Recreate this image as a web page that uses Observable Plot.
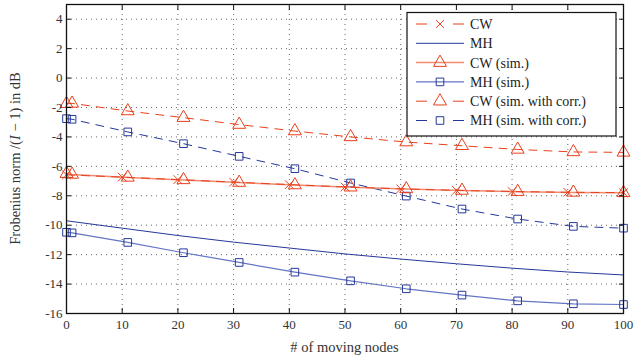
<!DOCTYPE html>
<html><head><meta charset="utf-8">
<script src="https://cdn.jsdelivr.net/npm/d3@7"></script>
<script src="https://cdn.jsdelivr.net/npm/@observablehq/plot@0.6"></script>
<style>body{margin:0;background:#fff;}</style>
</head><body><div id="chart"></div>
<script>
// ---- data ----
const xAnalytic = [0, 10, 20, 30, 40, 50, 60, 70, 80, 90, 100];
const cwAnalytic = [-6.58, -6.73, -6.9, -7.07, -7.24, -7.4, -7.53, -7.63, -7.71, -7.76, -7.79];
const mhAnalytic = [-9.7, -10.2, -10.7, -11.15, -11.55, -11.95, -12.3, -12.62, -12.92, -13.18, -13.38];
const xSim = [0, 1, 11, 21, 31, 41, 51, 61, 71, 81, 91, 100];
const cwSim = [-6.5, -6.55, -6.75, -6.92, -7.1, -7.27, -7.42, -7.54, -7.64, -7.72, -7.77, -7.8];
const mhSim = [-10.48, -10.52, -11.17, -11.87, -12.53, -13.19, -13.78, -14.32, -14.75, -15.14, -15.34, -15.39];
const cwSimCorr = [-1.75, -1.72, -2.24, -2.69, -3.16, -3.6, -4.0, -4.35, -4.6, -4.85, -5.02, -5.05];
const mhSimCorr = [-2.76, -2.8, -3.66, -4.46, -5.32, -6.16, -7.13, -8.02, -8.9, -9.58, -10.08, -10.2];
const xTicks = [0, 10, 20, 30, 40, 50, 60, 70, 80, 90, 100];
const yTicks = [-16, -14, -12, -10, -8, -6, -4, -2, 0, 2, 4];
const seriesNames = ["CW", "MH", "CW (sim.)", "MH (sim.)", "CW (sim. with corr.)", "MH (sim. with corr.)"];
const xLabel = "# of moving nodes";

const RED = "#e8401c", RED_LIGHT = "#f08a70", BLUE = "#25389a", BLUE_LIGHT = "#6475c2";
const DASH = "8,7";

const rows = (xs, ys) => xs.map((x, i) => ({x, y: ys[i]}));
const dCW = rows(xAnalytic, cwAnalytic);
const dMH = rows(xAnalytic, mhAnalytic);
const dCWs = rows(xSim, cwSim);
const dMHs = rows(xSim, mhSim);
const dCWc = rows(xSim, cwSimCorr);
const dMHc = rows(xSim, mhSimCorr);

const plot = Plot.plot({
  width: 634, height: 360,
  marginLeft: 66, marginRight: 11, marginTop: 4, marginBottom: 47,
  style: {fontFamily: "'Liberation Serif', serif", fontSize: "13px", color: "#222", background: "#fff"},
  x: {domain: [0, 100], label: null},
  y: {domain: [-16, 5], label: null},
  marks: [
    Plot.gridX(xTicks, {stroke: "#333", strokeOpacity: 0.75, strokeDasharray: "1,4"}),
    Plot.gridY(yTicks, {stroke: "#333", strokeOpacity: 0.75, strokeDasharray: "1,4"}),
    // MH analytic
    Plot.line(dMH, {x: "x", y: "y", stroke: BLUE, strokeWidth: 1}),
    // MH sim
    Plot.line(dMHs, {x: "x", y: "y", stroke: BLUE_LIGHT, strokeWidth: 1.2}),
    Plot.dot(dMHs, {x: "x", y: "y", symbol: "square", r: 4.3, fill: "none", stroke: BLUE, strokeWidth: 1}),
    // MH sim corr
    Plot.line(dMHc, {x: "x", y: "y", stroke: BLUE, strokeWidth: 1, strokeDasharray: DASH}),
    Plot.dot(dMHc, {x: "x", y: "y", symbol: "square", r: 4.3, fill: "none", stroke: BLUE, strokeWidth: 1}),
    // CW sim
    Plot.line(dCWs, {x: "x", y: "y", stroke: RED_LIGHT, strokeWidth: 1.5}),
    // CW analytic
    Plot.line(dCW, {x: "x", y: "y", stroke: RED, strokeWidth: 1, strokeDasharray: DASH}),
    Plot.dot(dCW, {x: "x", y: "y", symbol: "times", r: 4, stroke: RED, strokeWidth: 1}),
    Plot.dot(dCWs, {x: "x", y: "y", symbol: "triangle", r: 4.8, fill: "none", stroke: RED, strokeWidth: 1}),
    // CW sim corr
    Plot.line(dCWc, {x: "x", y: "y", stroke: RED, strokeWidth: 1, strokeDasharray: DASH}),
    Plot.dot(dCWc, {x: "x", y: "y", symbol: "triangle", r: 4.8, fill: "none", stroke: RED, strokeWidth: 1}),
    Plot.frame({stroke: "#111", strokeWidth: 1.3}),
    Plot.axisX(xTicks, {anchor: "bottom", tickSize: 0, tickPadding: 6, fill: "#333", fontSize: 13}),
    Plot.axisX(xTicks, {anchor: "bottom", tickSize: -5, text: null, stroke: "#111"}),
    Plot.axisX(xTicks, {anchor: "top", tickSize: -5, text: null, stroke: "#111"}),
    Plot.axisY(yTicks, {anchor: "left", tickSize: 0, tickPadding: 4, fill: "#333", fontSize: 13, tickFormat: d => String(d)}),
    Plot.axisY(yTicks, {anchor: "left", tickSize: -5, text: null, stroke: "#111"}),
    Plot.axisY(yTicks, {anchor: "right", tickSize: -5, text: null, stroke: "#111"})
  ]
});
document.getElementById("chart").appendChild(plot);

// ---- axis titles & legend (drawn into the same SVG) ----
const svg = d3.select(plot);
const font = "'Liberation Serif', serif";
svg.append("text")
  .attr("x", (66 + 623) / 2).attr("y", 352)
  .attr("text-anchor", "middle").attr("font-family", font).attr("font-size", 14.5).attr("fill", "#333")
  .text(xLabel);
const yl = svg.append("text")
  .attr("transform", `translate(20,${(4 + 313) / 2}) rotate(-90)`)
  .attr("text-anchor", "middle").attr("font-family", font).attr("font-size", 14.5).attr("fill", "#333");
yl.append("tspan").text("Frobenius norm /(");
yl.append("tspan").attr("font-style", "italic").text("I");
yl.append("tspan").text(" \u2212 1) in dB");

const lg = svg.append("g").attr("text-anchor", "start");
const bx = 407, by = 12.5, bw = 209, bh = 123.5;
lg.append("rect").attr("x", bx).attr("y", by).attr("width", bw).attr("height", bh)
  .attr("fill", "#fff").attr("stroke", "#111").attr("stroke-width", 1.2);
const legendStyles = [
  {stroke: RED, dash: true, sym: d3.symbolTimes, symStroke: RED, size: 40},
  {stroke: BLUE, dash: false, sym: null},
  {stroke: RED_LIGHT, dash: false, sym: d3.symbolTriangle, symStroke: RED, size: 73, w: 1.5},
  {stroke: BLUE_LIGHT, dash: false, sym: d3.symbolSquare, symStroke: BLUE, size: 58, w: 1.2},
  {stroke: RED, dash: true, sym: d3.symbolTriangle, symStroke: RED, size: 73},
  {stroke: BLUE, dash: true, sym: d3.symbolSquare, symStroke: BLUE, size: 58}
];
seriesNames.forEach((name, i) => {
  const st = legendStyles[i];
  const cy = 24 + i * 19.3;
  const ln = lg.append("line").attr("x1", 416).attr("x2", 464).attr("y1", cy).attr("y2", cy)
    .attr("stroke", st.stroke).attr("stroke-width", st.w || 1);
  if (st.dash) ln.attr("stroke-dasharray", "11,26");
  if (st.sym) {
    lg.append("path").attr("d", d3.symbol(st.sym, st.size)())
      .attr("transform", `translate(440,${cy})`)
      .attr("fill", "none").attr("stroke", st.symStroke).attr("stroke-width", 1);
  }
  lg.append("text").attr("x", 470).attr("y", cy).attr("dy", "0.35em").attr("text-anchor", "start")
    .attr("font-family", font).attr("font-size", 14).attr("fill", "#222").text(name);
});
</script>
</body></html>
